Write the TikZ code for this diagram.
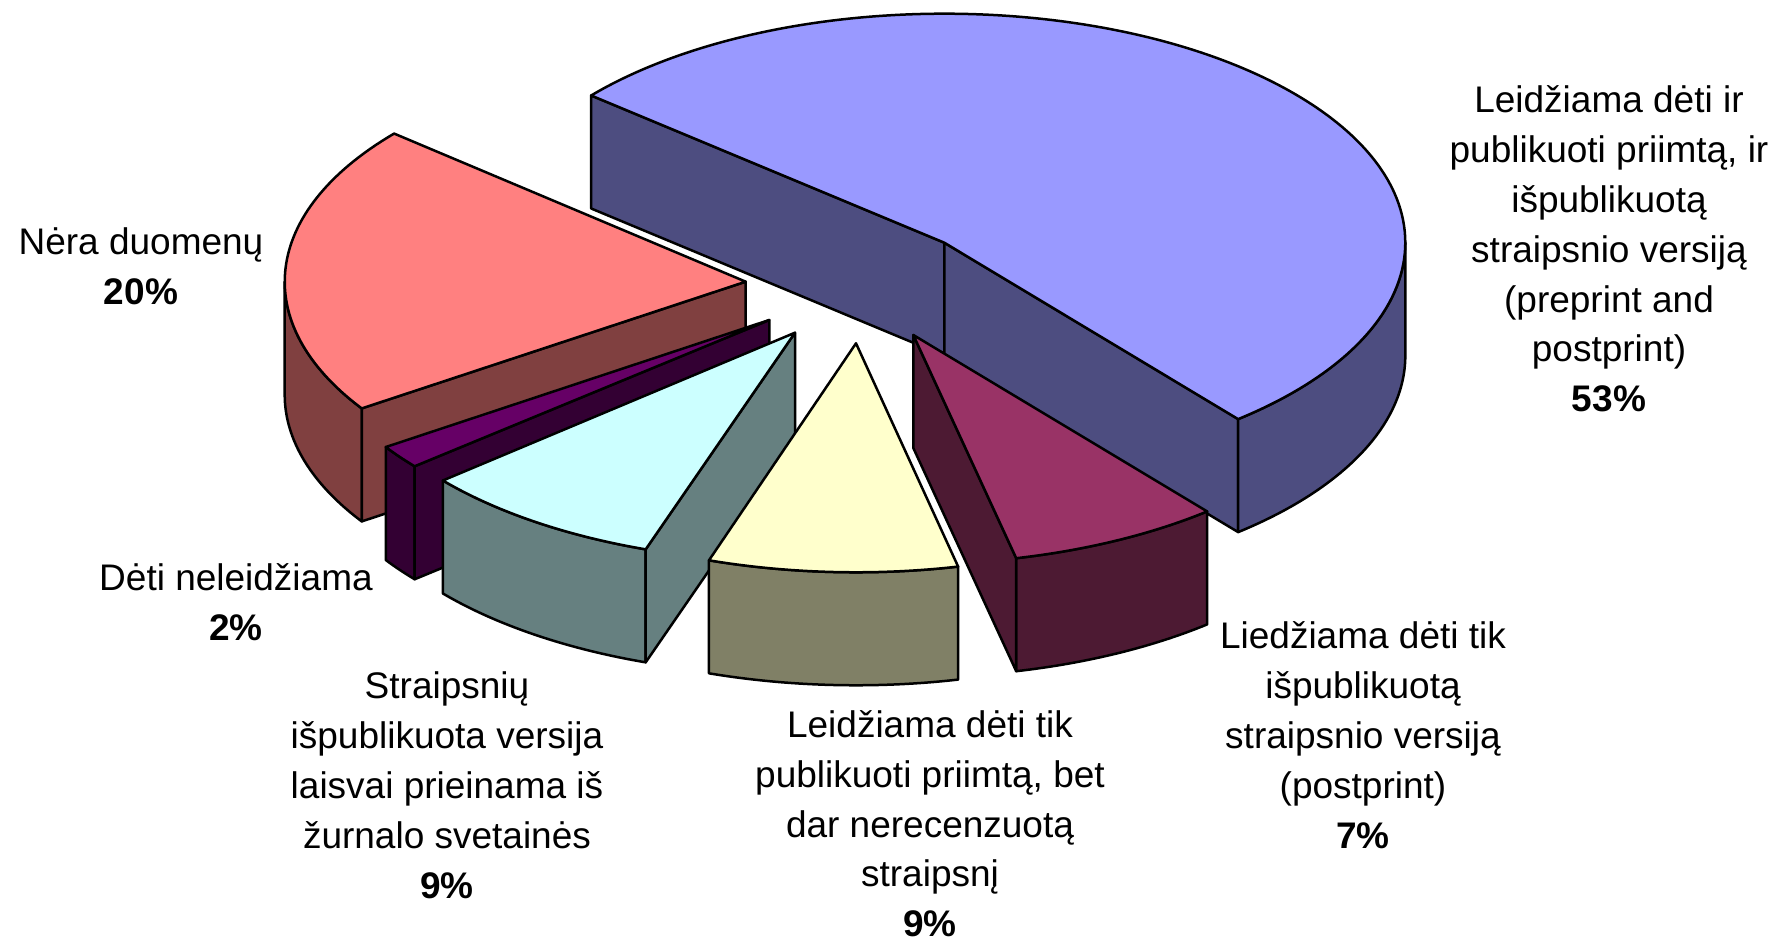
\documentclass[tikz,border=0pt]{standalone}
\usepackage{fontspec}
\setmainfont{Liberation Sans}
\usetikzlibrary{calc}
\definecolor{blueTop}{HTML}{9999FF}
\definecolor{blueSide}{HTML}{4D4D80}
\definecolor{redTop}{HTML}{FF8080}
\definecolor{redSide}{HTML}{804040}
\definecolor{purTop}{HTML}{660066}
\definecolor{purSide}{HTML}{330033}
\definecolor{cyaTop}{HTML}{CCFFFF}
\definecolor{cyaSide}{HTML}{668080}
\definecolor{yelTop}{HTML}{FFFFCC}
\definecolor{yelSide}{HTML}{808066}
\definecolor{magTop}{HTML}{993366}
\definecolor{magSide}{HTML}{4D1A33}
\newcommand\pieRA{461}
\newcommand\pieRB{229}
\newcommand\pieTH{113}
% outer curved side face: apex, t1, t2, colour
\newcommand\pieSide[4]{%
  \draw[face,fill=#4] ($(#1)+({\pieRA*cos(#2)},{\pieRB*sin(#2)})$)
    arc[start angle=#2,end angle=#3,x radius=\pieRA,y radius=\pieRB]
    -- ++(0,-\pieTH)
    arc[start angle=#3,end angle=#2,x radius=\pieRA,y radius=\pieRB] -- cycle;}
% flat cut face: apex, angle, colour
\newcommand\pieCut[3]{%
  \draw[face,fill=#3] (#1) -- ++({\pieRA*cos(#2)},{\pieRB*sin(#2)})
    -- ++(0,-\pieTH) -- ++({-\pieRA*cos(#2)},{-\pieRB*sin(#2)}) -- cycle;}
% top face: apex, t1, t2, colour
\newcommand\pieTop[4]{%
  \draw[face,fill=#4] (#1) -- ++({\pieRA*cos(#2)},{\pieRB*sin(#2)})
    arc[start angle=#2,end angle=#3,x radius=\pieRA,y radius=\pieRB] -- cycle;}
\begin{document}
\begin{tikzpicture}[x=1pt,y=1pt,
  face/.style={draw=black,line width=2.5pt,line join=round},
  lab/.style={inner sep=0pt,anchor=base,font=\fontsize{37}{49.8}\selectfont}]
\useasboundingbox (0,0) rectangle (1783,941);
\fill[white] (0,0) rectangle (1783,941);
% apexes of the exploded slices
\coordinate (PB) at (944.3,698.3);
\coordinate (PR) at (745.7,659.3);
\coordinate (PM) at (913.3,606);
\coordinate (PP) at (769.3,621);
\coordinate (PC) at (795,608.3);
\coordinate (PY) at (856,597.7);
% blue 53%
\pieCut{PB}{140}{blueSide}
\pieCut{PB}{-50.4}{blueSide}
\pieSide{PB}{-50.4}{0}{blueSide}
\pieTop{PB}{-50.4}{140}{blueTop}
% red 20%
\pieSide{PR}{180}{213.6}{redSide}
\pieCut{PR}{213.6}{redSide}
\pieTop{PR}{139.7}{213.6}{redTop}
% magenta 7%
\pieSide{PM}{-77.1}{-50.4}{magSide}
\pieCut{PM}{-77.1}{magSide}
\pieTop{PM}{-77.1}{-50.4}{magTop}
% purple 2%
\pieSide{PP}{-146.3}{-140.3}{purSide}
\pieCut{PP}{-140.3}{purSide}
\pieTop{PP}{-146.3}{-140.3}{purTop}
% cyan 9%
\pieSide{PC}{-139.8}{-108.9}{cyaSide}
\pieCut{PC}{-108.9}{cyaSide}
\pieTop{PC}{-139.8}{-108.9}{cyaTop}
% yellow 9%
\pieSide{PY}{-108.6}{-77.2}{yelSide}
\pieTop{PY}{-108.6}{-77.2}{yelTop}
% labels
\node[lab] (l53) at (1609,828) {\begin{tabular}[t]{@{}c@{}}Leidžiama dėti ir\\publikuoti priimtą, ir\\išpublikuotą\\straipsnio versiją\\(preprint and\\postprint)\\\textbf{53\%}\end{tabular}};
\node[lab] (l20) at (141,686) {\begin{tabular}[t]{@{}c@{}}Nėra duomenų\\\textbf{20\%}\end{tabular}};
\node[lab] (l2) at (236,350) {\begin{tabular}[t]{@{}c@{}}Dėti neleidžiama\\\textbf{2\%}\end{tabular}};
\node[lab] (l9a) at (447,242) {\begin{tabular}[t]{@{}c@{}}Straipsnių\\išpublikuota versija\\laisvai prieinama iš\\žurnalo svetainės\\\textbf{9\%}\end{tabular}};
\node[lab] (l9b) at (930,203.5) {\begin{tabular}[t]{@{}c@{}}Leidžiama dėti tik\\publikuoti priimtą, bet\\dar nerecenzuotą\\straipsnį\\\textbf{9\%}\end{tabular}};
\node[lab] (l7) at (1363,292) {\begin{tabular}[t]{@{}c@{}}Liedžiama dėti tik\\išpublikuotą\\straipsnio versiją\\(postprint)\\\textbf{7\%}\end{tabular}};
\end{tikzpicture}
\end{document}
